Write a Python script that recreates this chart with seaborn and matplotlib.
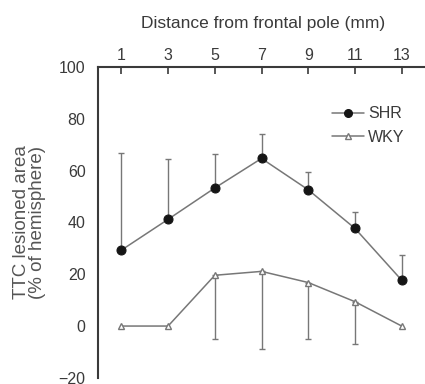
import numpy as np
import pandas as pd
import matplotlib
matplotlib.use("Agg")
import matplotlib.pyplot as plt
from matplotlib.lines import Line2D
import seaborn as sns

# Distance from frontal pole (mm)
distance = [1, 3, 5, 7, 9, 11, 13]
# Mean TTC lesioned area (% of hemisphere)
shr_mean = [29.3, 41.2, 53.3, 64.7, 52.6, 37.7, 17.7]
wky_mean = [0.0, 0.0, 19.6, 21.1, 16.8, 9.4, 0.0]
# Top of SHR error bars and bottom of WKY error bars
shr_upper = [66.8, 64.5, 66.4, 74.0, 59.3, 44.0, 27.4]
wky_lower = [0.0, 0.0, -5.0, -8.8, -5.0, -6.9, 0.0]

df = pd.DataFrame({
    "distance": distance * 2,
    "area": shr_mean + wky_mean,
    "strain": ["SHR"] * 7 + ["WKY"] * 7,
})

sns.set_theme(style="white")
plt.rcParams["font.family"] = ["Liberation Sans", "DejaVu Sans"]

ink = "#3a3a3a"
line_c = "#777777"

fig = plt.figure(figsize=(4.25, 3.84), dpi=100)
ax = fig.add_axes([0.2306, 0.016, 0.775, 0.8095])

# Error bars: SHR upward, WKY downward
shr_err = np.array(shr_upper) - np.array(shr_mean)
wky_err = np.array(wky_mean) - np.array(wky_lower)
ax.errorbar(distance, shr_mean, yerr=[np.zeros(7), shr_err], fmt="none",
            ecolor=line_c, elinewidth=1.0, capsize=2.5, capthick=1.0, zorder=1)
wky_mask = wky_err > 0
ax.errorbar(np.array(distance)[wky_mask], np.array(wky_mean)[wky_mask],
            yerr=[wky_err[wky_mask], np.zeros(wky_mask.sum())], fmt="none",
            ecolor=line_c, elinewidth=1.0, capsize=2.5, capthick=1.0, zorder=1)

sns.lineplot(data=df, x="distance", y="area", hue="strain", style="strain",
             palette={"SHR": line_c, "WKY": line_c},
             markers={"SHR": "o", "WKY": "^"}, dashes=False,
             linewidth=1.1, ax=ax, legend=False, zorder=2)

# Marker faces: filled circles for SHR, open triangles for WKY
for ln in ax.get_lines():
    if ln.get_marker() == "o":
        ln.set_markerfacecolor("#151515")
        ln.set_markeredgecolor("#151515")
        ln.set_markersize(6.5)
    elif ln.get_marker() == "^":
        ln.set_markerfacecolor("white")
        ln.set_markeredgecolor(line_c)
        ln.set_markersize(5)
        ln.set_markeredgewidth(1.0)

handles = [
    Line2D([], [], color=line_c, lw=1.1, marker="o", markersize=5.5,
           markerfacecolor="#151515", markeredgecolor="#151515"),
    Line2D([], [], color=line_c, lw=1.1, marker="^", markersize=4.5,
           markerfacecolor="white", markeredgecolor=line_c),
]
ax.legend(handles, ["SHR", "WKY"], loc="upper right",
          bbox_to_anchor=(0.975, 0.92), frameon=False, fontsize=11.5,
          handlelength=2.0, handletextpad=0.25, labelspacing=0.55,
          labelcolor=ink)

ax.set_xlim(0, 14.1)
ax.set_ylim(-20, 100)
ax.set_xticks(distance)
ax.set_yticks([-20, 0, 20, 40, 60, 80, 100])

ax.xaxis.set_ticks_position("top")
ax.xaxis.set_label_position("top")
ax.tick_params(axis="x", direction="in", length=5, width=1.2, color=ink,
               labelsize=11.5, labelcolor=ink, pad=3)
ax.tick_params(axis="y", direction="in", length=5, width=1.2, color=ink,
               labelsize=11.5, labelcolor=ink, pad=9)

for side in ["right", "bottom"]:
    ax.spines[side].set_visible(False)
for side in ["left", "top"]:
    ax.spines[side].set_visible(True)
    ax.spines[side].set_color(ink)
    ax.spines[side].set_linewidth(1.5)

ax.set_xlabel("Distance from frontal pole (mm)", fontsize=12.5, color=ink,
              labelpad=14)
ax.set_ylabel("TTC lesioned area\n(% of hemisphere)", fontsize=13.5,
              color="#555555", labelpad=9, linespacing=0.95)
ax.grid(False)

fig.savefig("out.png", dpi=100)
